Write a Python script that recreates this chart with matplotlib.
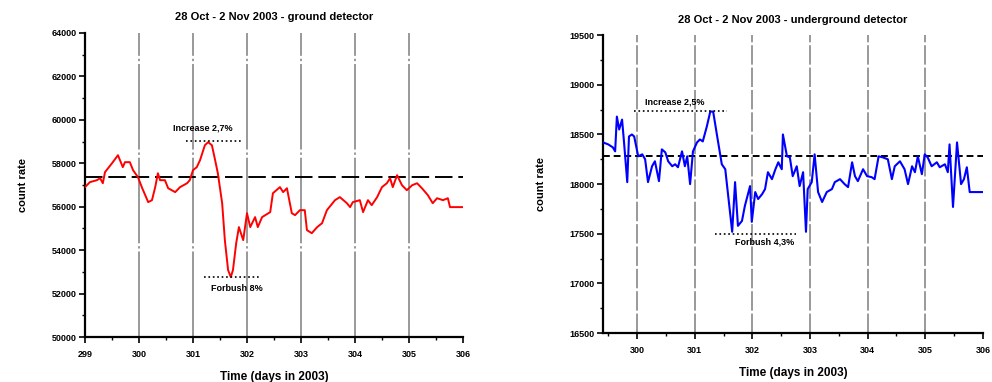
import matplotlib
matplotlib.use("Agg")
import matplotlib.pyplot as plt
from matplotlib.ticker import MultipleLocator

plt.rcParams['font.family'] = ['Liberation Sans', 'DejaVu Sans']
plt.rcParams['font.weight'] = 'bold'

# ground detector (day of year, counts)
ground_day = [299.00, 299.09, 299.22, 299.28, 299.33, 299.37, 299.50, 299.61, 299.70, 299.74,
              299.83, 299.89, 299.98, 300.06, 300.17, 300.24, 300.30, 300.35, 300.39, 300.48,
              300.54, 300.67, 300.76, 300.89, 300.94, 301.00, 301.07, 301.13, 301.22, 301.28,
              301.35, 301.41, 301.46, 301.54, 301.59, 301.65, 301.70, 301.74, 301.80, 301.85,
              301.93, 302.00, 302.06, 302.15, 302.20, 302.28, 302.43, 302.48, 302.61, 302.67,
              302.74, 302.83, 302.89, 302.98, 303.07, 303.11, 303.20, 303.30, 303.39, 303.48,
              303.63, 303.72, 303.85, 303.91, 303.96, 304.09, 304.15, 304.24, 304.31, 304.41,
              304.50, 304.59, 304.65, 304.70, 304.78, 304.87, 304.96, 305.06, 305.15, 305.24,
              305.35, 305.44, 305.52, 305.63, 305.72, 305.76, 306.00]
ground_rate = [56900, 57130, 57220, 57310, 57080, 57590, 58000, 58370, 57820, 58050,
               58050, 57680, 57360, 56850, 56210, 56300, 56900, 57540, 57220, 57220,
               56850, 56670, 56900, 57080, 57220, 57680, 57820, 58140, 58830, 58970,
               58830, 58140, 57540, 56160, 54460, 53080, 52760, 53080, 54320, 55060,
               54460, 55700, 55060, 55520, 55060, 55520, 55750, 56620, 56900, 56670,
               56850, 55700, 55610, 55840, 55840, 54920, 54780, 55060, 55240, 55840,
               56300, 56440, 56160, 55980, 56210, 56300, 55750, 56300, 56070, 56440,
               56900, 57080, 57310, 56900, 57450, 56990, 56760, 56990, 57080, 56850,
               56530, 56160, 56390, 56300, 56390, 55980, 55980]
ground_mean = 57360

# underground detector
under_day = [299.41, 299.50, 299.58, 299.62, 299.65, 299.69, 299.74, 299.77, 299.83, 299.86,
             299.91, 299.95, 300.02, 300.09, 300.14, 300.19, 300.26, 300.31, 300.38, 300.43,
             300.49, 300.54, 300.61, 300.66, 300.71, 300.78, 300.83, 300.87, 300.92, 300.97,
             301.04, 301.09, 301.14, 301.21, 301.27, 301.32, 301.39, 301.47, 301.53, 301.65,
             301.70, 301.75, 301.82, 301.87, 301.96, 301.99, 302.05, 302.10, 302.17, 302.22,
             302.27, 302.34, 302.40, 302.45, 302.51, 302.53, 302.60, 302.65, 302.70, 302.77,
             302.82, 302.88, 302.93, 302.96, 303.03, 303.08, 303.14, 303.21, 303.29, 303.38,
             303.43, 303.52, 303.60, 303.66, 303.73, 303.78, 303.83, 303.92, 303.99, 304.07,
             304.12, 304.19, 304.26, 304.35, 304.42, 304.47, 304.56, 304.64, 304.70, 304.77,
             304.82, 304.87, 304.94, 304.99, 305.04, 305.11, 305.20, 305.25, 305.34, 305.39,
             305.42, 305.48, 305.55, 305.62, 305.67, 305.72, 305.77, 305.82, 306.00]
under_rate = [18420, 18400, 18370, 18330, 18680, 18550, 18650, 18450, 18020, 18480,
              18500, 18480, 18280, 18300, 18250, 18020, 18180, 18230, 18030, 18350,
              18320, 18230, 18180, 18200, 18170, 18330, 18180, 18280, 18000, 18330,
              18420, 18450, 18430, 18580, 18730, 18730, 18480, 18200, 18150, 17520,
              18020, 17580, 17630, 17780, 17980, 17620, 17920, 17850, 17900, 17950,
              18120, 18050, 18150, 18220, 18150, 18500, 18280, 18270, 18080, 18180,
              17980, 18120, 17520, 17950, 18020, 18300, 17920, 17820, 17920, 17950,
              18020, 18050, 18000, 17970, 18220, 18080, 18030, 18150, 18080, 18070,
              18050, 18280, 18270, 18250, 18050, 18180, 18230, 18150, 18000, 18180,
              18120, 18280, 18100, 18300, 18270, 18180, 18220, 18170, 18200, 18120,
              18400, 17770, 18420, 18000, 18050, 18170, 17920, 17920, 17920]
under_mean = 18280

day_lines = [300, 301, 302, 303, 304, 305]

fig = plt.figure(figsize=(9.92, 3.82), dpi=100)
ax1 = fig.add_axes([0.0857, 0.1178, 0.381, 0.796])
ax2 = fig.add_axes([0.6079, 0.128, 0.383, 0.780])


def style_axes(ax):
    for s in ['top', 'right']:
        ax.spines[s].set_visible(False)
    for s in ['left', 'bottom']:
        ax.spines[s].set_linewidth(1.6)
    ax.tick_params(which='major', direction='out', length=4, width=1.2, labelsize=6.5)
    ax.tick_params(axis='x', which='major', pad=5)
    ax.tick_params(axis='y', which='major', pad=2)
    ax.tick_params(which='minor', direction='out', length=2.5, width=1.0)
    ax.xaxis.set_minor_locator(MultipleLocator(0.5))
    for lab in ax.get_xticklabels() + ax.get_yticklabels():
        lab.set_fontweight('bold')
    ax.set_xlabel("Time (days in 2003)", fontsize=8.5, fontweight='bold', labelpad=9)
    ax.set_ylabel("count rate", fontsize=8, fontweight='bold', labelpad=17)


# --- ground detector ---
for d in day_lines:
    ax1.axvline(d, color='#999999', lw=1.4, dashes=(44, 1.5, 1.2, 1.5), zorder=1)
ax1.axhline(ground_mean, color='black', lw=1.4, dashes=(9, 3), zorder=2)
ax1.plot(ground_day, ground_rate, color='red', lw=1.4, zorder=3)
ax1.plot([300.87, 301.9], [59010, 59010], color='black', lw=1.2, ls=':', zorder=4)
ax1.plot([301.2, 302.24], [52760, 52760], color='black', lw=1.2, ls=':', zorder=4)
ax1.text(301.18, 59610, "Increase 2,7%", fontsize=6.5, fontweight='bold', ha='center', va='center')
ax1.text(301.82, 52250, "Forbush 8%", fontsize=6.5, fontweight='bold', ha='center', va='center')
ax1.set_xlim(299, 306)
ax1.set_ylim(50000, 64000)
ax1.yaxis.set_major_locator(MultipleLocator(2000))
ax1.yaxis.set_minor_locator(MultipleLocator(1000))
ax1.set_xticks(range(299, 307))
style_axes(ax1)
ax1.set_title("28 Oct - 2 Nov 2003 - ground detector", fontsize=8, fontweight='bold', pad=9)

# --- underground detector ---
for d in day_lines:
    ax2.axvline(d, color='#999999', lw=1.4, dashes=(10, 1.5), zorder=1)
ax2.axhline(under_mean, color='black', lw=1.4, dashes=(3.5, 2), zorder=2)
ax2.plot(under_day, under_rate, color='blue', lw=1.5, zorder=3)
ax2.plot([299.95, 301.56], [18740, 18740], color='black', lw=1.2, ls=':', zorder=4)
ax2.plot([301.36, 302.76], [17500, 17500], color='black', lw=1.2, ls=':', zorder=4)
ax2.text(300.66, 18830, "Increase 2,5%", fontsize=6.5, fontweight='bold', ha='center', va='center')
ax2.text(302.22, 17420, "Forbush 4,3%", fontsize=6.5, fontweight='bold', ha='center', va='center')
ax2.set_xlim(299.41, 306)
ax2.set_ylim(16500, 19500)
ax2.yaxis.set_major_locator(MultipleLocator(500))
ax2.yaxis.set_minor_locator(MultipleLocator(250))
ax2.set_xticks(range(300, 307))
style_axes(ax2)
ax2.set_title("28 Oct - 2 Nov 2003 - underground detector", fontsize=8, fontweight='bold', pad=9)

fig.savefig("out.png", dpi=100)
